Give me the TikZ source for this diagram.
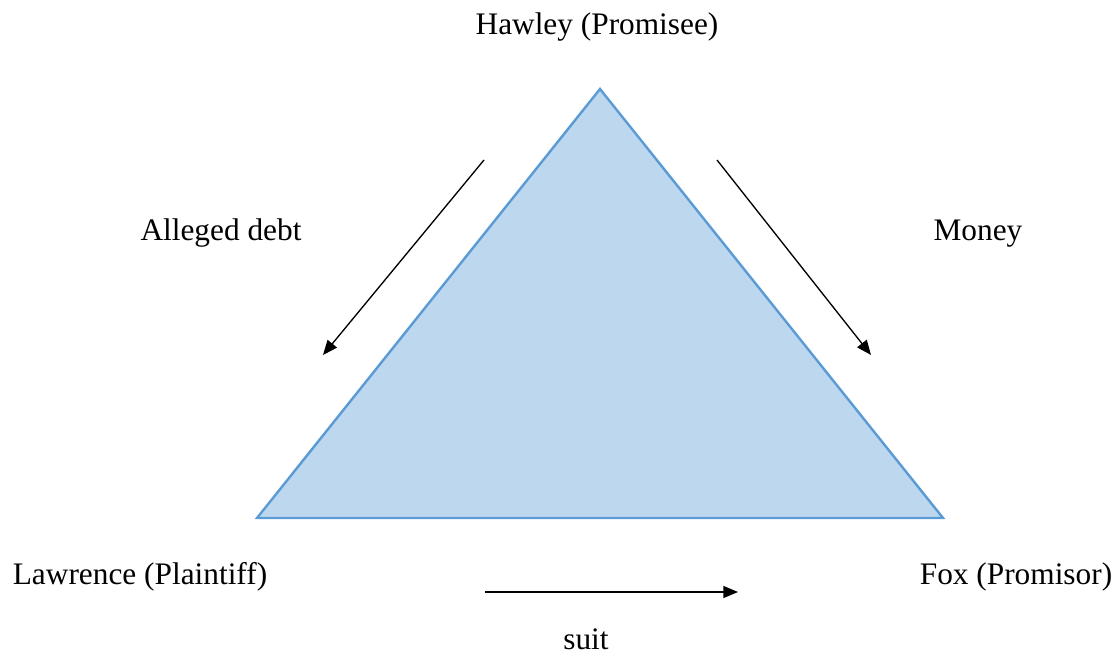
\documentclass[tikz,border=0pt]{standalone}
\usepackage{fontspec}
\setmainfont{Liberation Serif}
\usetikzlibrary{arrows.meta}
\definecolor{trifill}{HTML}{BDD7EE}
\definecolor{triedge}{HTML}{5B9BD5}
\begin{document}
\begin{tikzpicture}[x=0.75pt,y=-0.75pt,
  lbl/.style={anchor=base,inner sep=0pt,font=\fontsize{23.5}{28}\selectfont},
  flow/.style={line width=1pt,-{Triangle[length=11pt,width=9pt]}}]
\useasboundingbox (0,0) rectangle (1119,655);
\coordinate (top) at (600,89);
\coordinate (bl) at (257,518);
\coordinate (br) at (943,518);
\draw[fill=trifill,draw=triedge,line width=1.8pt,line join=miter] (top) -- (bl) -- (br) -- cycle;
\node[lbl] (hawley) at (597,35) {Hawley (Promisee)};
\node[lbl] (debt) at (221,241) {Alleged debt};
\node[lbl] (money) at (978,241) {Money};
\node[lbl] (lawrence) at (140,584) {Lawrence (Plaintiff)};
\node[lbl] (fox) at (1016,584) {Fox (Promisor)};
\node[lbl] (suit) at (586,649) {suit};
\coordinate (a1s) at (484,160);
\coordinate (a1e) at (323,355);
\coordinate (a2s) at (717,160);
\coordinate (a2e) at (871,355);
\coordinate (a3s) at (485,592);
\coordinate (a3e) at (738,592);
\draw[flow] (a1s) -- (a1e);
\draw[flow] (a2s) -- (a2e);
\draw[flow] (a3s) -- (a3e);
\end{tikzpicture}
\end{document}
